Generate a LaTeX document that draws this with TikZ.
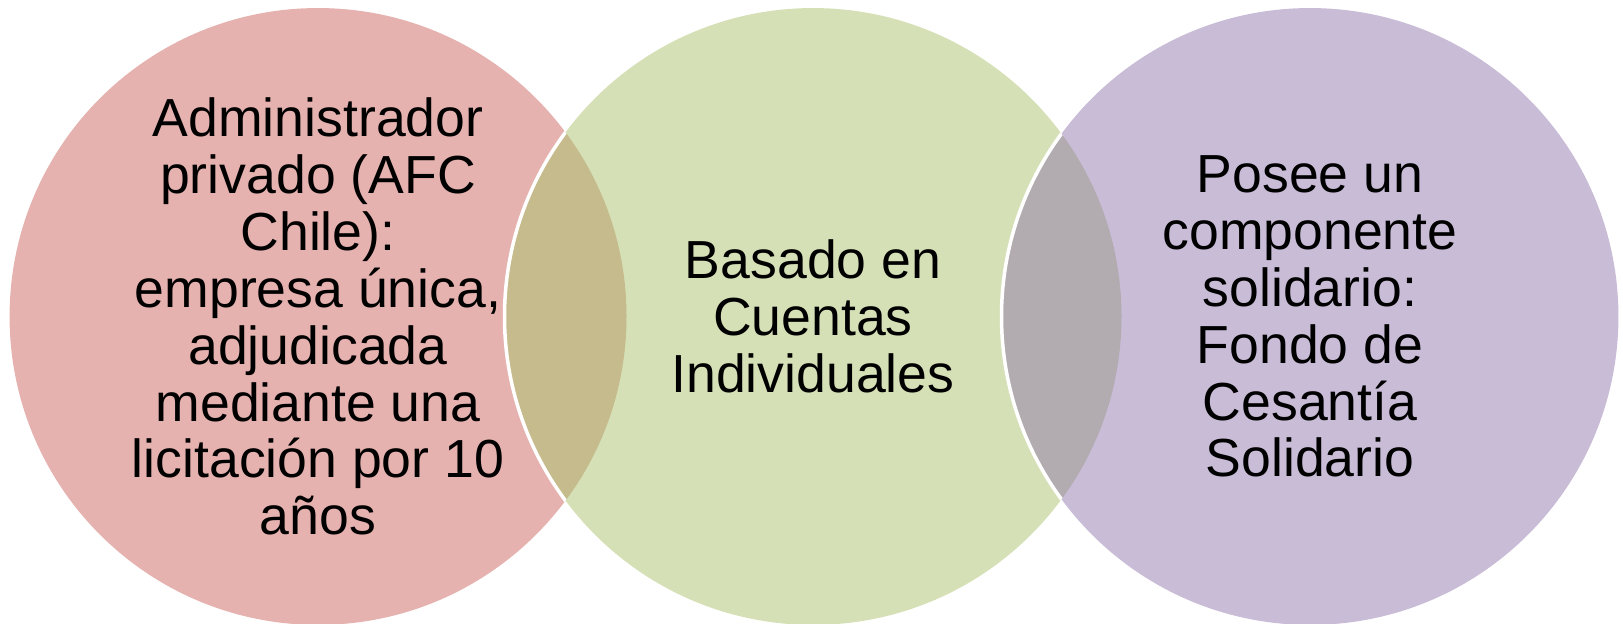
\documentclass[tikz,border=0pt]{standalone}
\usepackage{fontspec}
\setmainfont{Liberation Sans}
\usetikzlibrary{positioning}
\definecolor{rosa}{HTML}{E5B2AF}
\definecolor{verde}{HTML}{D5E0B6}
\definecolor{lila}{HTML}{C9BCD7}
\definecolor{cafe}{HTML}{C6BB8C}
\definecolor{gris}{HTML}{B2ACB1}

\begin{document}
\begin{tikzpicture}[x=0.02cm,y=0.02cm]
			%coordinates
			\coordinate (orig)   at (0,0);
			\coordinate (UR)     at (1623,624);
			
			\coordinate (CA) at (318,307.5);
			\coordinate (CB) at (813,307.5);
			\coordinate (CC) at (1310,307.5);
			
			\useasboundingbox (orig) rectangle (UR);
			
			\tikzset{circulo/.style={circle, minimum size=12.34cm, inner sep=0pt},
				borde/.style={draw=white, line width=0.07cm},
				texto/.style={align=center, font=\fontsize{30.5}{32.4}\selectfont}}
			
			%circles
			\node[circulo, fill=rosa]  (A) at (CA) {};
			\node[circulo, fill=verde] (B) at (CB) {};
			\node[circulo, fill=lila]  (C) at (CC) {};
			
			%overlaps
			\begin{scope}
				\clip (CA) circle (308.5);
				\fill[cafe] (CB) circle (308.5);
				\draw[borde] (CB) circle (308.5);
			\end{scope}
			\begin{scope}
				\clip (CB) circle (308.5);
				\fill[gris] (CC) circle (308.5);
				\draw[borde] (CC) circle (308.5);
			\end{scope}
			
			%nodes
			\node[texto] (admin) at (CA) {Administrador\\privado (AFC\\Chile):\\empresa única,\\adjudicada\\mediante una\\licitación por 10\\años};
			\node[texto] (cuentas) at (CB) {Basado en\\Cuentas\\Individuales};
			\node[texto] (fondo) at (CC) {Posee un\\componente\\solidario:\\Fondo de\\Cesantía\\Solidario};
\end{tikzpicture}
\end{document}
